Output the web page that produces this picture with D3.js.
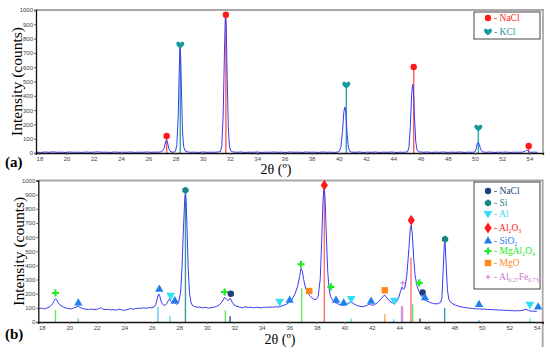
<!DOCTYPE html>
<html>
<head>
<meta charset="utf-8">
<script src="https://cdn.jsdelivr.net/npm/d3@7"></script>
<style>
  body { margin: 0; background: #fff; }
  svg { display: block; }
  .tick text { font-family: "Liberation Sans", Arial, sans-serif; font-size: 6px; fill: #444; }
</style>
</head>
<body>
<div class="chart"></div>
<script>
// XRD patterns (2theta in degrees, intensity in counts)
var topTheta = [17.75,18.1,18.4,18.7,19.0,19.3,19.6,19.9,20.2,20.5,20.8,21.1,21.4,21.7,22.0,22.3,22.6,22.9,23.2,23.5,23.8,24.1,24.4,24.7,25.0,25.3,25.6,25.9,26.2,26.5,26.8,27.0,27.15,27.25,27.33,27.4,27.5,27.6,27.75,27.9,28.0,28.1,28.2,28.28,28.33,28.38,28.45,28.52,28.6,28.7,28.85,29.1,29.4,29.7,30.0,30.3,30.6,30.9,31.1,31.3,31.4,31.5,31.6,31.66,31.72,31.8,31.88,31.96,32.05,32.2,32.5,32.8,33.1,33.4,33.7,34.0,34.3,34.6,34.9,35.2,35.5,35.8,36.1,36.4,36.7,37.0,37.3,37.6,37.9,38.2,38.5,38.8,39.1,39.4,39.7,40.0,40.15,40.27,40.37,40.45,40.52,40.6,40.7,40.8,40.95,41.2,41.5,41.8,42.1,42.4,42.7,43.0,43.3,43.6,43.9,44.2,44.5,44.8,45.05,45.15,45.25,45.35,45.42,45.48,45.56,45.65,45.75,45.9,46.2,46.5,46.8,47.1,47.4,47.7,48.0,48.3,48.6,48.9,49.2,49.5,49.8,50.0,50.1,50.17,50.24,50.32,50.42,50.55,50.8,51.1,51.4,51.7,52.0,52.3,52.6,52.9,53.2,53.5,53.7,53.8,53.9,54.0,54.1,54.3,54.6,55.0];
var topCounts = [6,4,7,5,8,5,6,4,7,5,6,4,7,5,6,8,5,6,4,7,5,6,5,7,4,6,5,7,5,6,6,10,30,70,92,80,35,12,6,7,12,60,260,600,735,680,380,140,45,15,8,5,6,4,7,5,6,5,7,10,50,260,720,958,900,520,180,50,15,8,5,7,4,6,5,7,4,6,5,7,5,6,4,7,5,6,4,7,5,6,4,7,5,6,4,8,40,150,290,322,280,140,40,12,6,5,7,4,6,5,7,4,6,5,7,4,6,5,8,40,180,410,480,440,250,80,20,8,5,7,4,6,5,7,4,6,5,7,4,6,5,8,30,65,75,60,25,8,5,7,4,6,5,7,4,6,5,6,14,21,16,7,5,6,5];

var bottomTheta = [17.75,18.0,18.2,18.4,18.6,18.8,18.9,19.0,19.1,19.2,19.35,19.5,19.7,19.9,20.1,20.3,20.5,20.65,20.8,21.0,21.2,21.4,21.6,21.8,22.0,22.2,22.3,22.4,22.6,22.8,23.0,23.2,23.4,23.6,23.8,24.0,24.2,24.4,24.5,24.6,24.8,25.0,25.2,25.4,25.6,25.8,26.0,26.2,26.3,26.4,26.5,26.58,26.7,26.85,27.0,27.1,27.2,27.3,27.4,27.5,27.6,27.7,27.85,27.95,28.1,28.2,28.3,28.4,28.45,28.5,28.58,28.65,28.75,28.85,28.95,29.1,29.3,29.5,29.7,29.9,30.1,30.3,30.5,30.7,30.9,31.1,31.3,31.45,31.55,31.7,31.85,32.0,32.2,32.4,32.6,32.8,33.0,33.2,33.4,33.6,33.8,34.0,34.2,34.4,34.6,34.8,35.0,35.2,35.4,35.6,35.8,36.0,36.2,36.4,36.6,36.75,36.85,36.95,37.05,37.2,37.4,37.6,37.8,37.95,38.1,38.25,38.35,38.45,38.53,38.6,38.7,38.8,38.9,39.0,39.15,39.3,39.5,39.7,39.9,40.1,40.3,40.5,40.7,40.9,41.1,41.3,41.5,41.7,41.85,42.0,42.2,42.4,42.6,42.8,42.95,43.1,43.3,43.5,43.65,43.8,43.95,44.1,44.2,44.3,44.4,44.55,44.7,44.8,44.87,44.95,45.05,45.15,45.3,45.45,45.6,45.8,46.0,46.2,46.4,46.6,46.8,47.0,47.1,47.2,47.28,47.33,47.4,47.5,47.6,47.75,47.9,48.1,48.3,48.5,48.7,48.9,49.1,49.3,49.5,49.7,49.85,50.0,50.2,50.4,50.6,50.8,51.0,51.2,51.4,51.6,51.8,52.0,52.2,52.4,52.6,52.8,53.0,53.2,53.4,53.5,53.6,53.8,54.0,54.2,54.43];
var bottomCounts = [95,98,92,100,108,130,150,165,155,135,118,110,100,96,92,98,104,112,102,95,90,88,92,87,90,95,104,92,88,90,85,88,84,90,86,82,88,92,97,90,94,98,96,100,97,102,100,108,125,165,198,185,140,118,120,130,150,165,145,128,138,132,125,140,210,380,650,870,910,860,620,380,200,140,118,110,104,106,100,104,98,100,104,110,120,140,175,160,150,168,140,120,110,105,100,108,102,105,100,104,102,100,105,103,106,104,108,106,112,118,125,140,160,195,250,320,378,360,300,235,195,175,160,158,180,300,550,850,955,880,600,350,230,180,155,140,130,122,118,122,132,142,128,118,112,108,112,120,128,118,122,135,155,180,190,170,148,135,130,142,170,220,248,230,240,330,520,660,684,620,450,330,250,215,185,160,148,140,132,128,130,138,170,380,560,566,420,230,160,138,128,118,112,106,104,100,98,96,94,92,93,90,92,88,89,86,87,84,85,82,83,80,81,78,80,79,84,90,82,78,76,77,74];

// phase markers (2theta, marker height) and reference sticks (2theta, stick height)
var topPhases = ["NaCl", "KCl"];
var topMarks = [
  {phase: "NaCl", theta: 27.35, mark: 119},
  {phase: "KCl", theta: 28.35, mark: 755},
  {phase: "NaCl", theta: 31.7, mark: 967},
  {phase: "KCl", theta: 40.55, mark: 475},
  {phase: "NaCl", theta: 45.5, mark: 601},
  {phase: "KCl", theta: 50.25, mark: 175},
  {phase: "NaCl", theta: 53.95, mark: 49}
];

var bottomPhases = ["NaCl", "Si", "Al", "Al_2O_3", "SiO_2", "MgAl_2O_4", "MgO", "Al_{0.27}Fe_{0.73}"];
var bottomMarks = [
  {phase: "MgAl_2O_4", theta: 19.0, mark: 205},
  {phase: "SiO_2", theta: 20.66, mark: 134},
  {phase: "SiO_2", theta: 26.55, mark: 231},
  {phase: "Al", theta: 27.38, mark: 189},
  {phase: "SiO_2", theta: 27.68, mark: 150},
  {phase: "Si", theta: 28.45, mark: 931},
  {phase: "MgAl_2O_4", theta: 31.3, mark: 212},
  {phase: "NaCl", theta: 31.75, mark: 200},
  {phase: "Al", theta: 35.3, mark: 146},
  {phase: "SiO_2", theta: 36.03, mark: 153},
  {phase: "MgAl_2O_4", theta: 36.85, mark: 408},
  {phase: "MgO", theta: 37.45, mark: 219},
  {phase: "Al_2O_3", theta: 38.55, mark: 967},
  {phase: "MgAl_2O_4", theta: 39.03, mark: 248},
  {phase: "SiO_2", theta: 39.4, mark: 153},
  {phase: "SiO_2", theta: 39.96, mark: 134},
  {phase: "Al", theta: 40.5, mark: 165},
  {phase: "SiO_2", theta: 41.95, mark: 146},
  {phase: "MgO", theta: 42.95, mark: 224},
  {phase: "Al", theta: 43.65, mark: 153},
  {phase: "Al_{0.27}Fe_{0.73}", theta: 44.25, mark: 276},
  {phase: "Al_2O_3", theta: 44.87, mark: 719},
  {phase: "MgAl_2O_4", theta: 45.45, mark: 276},
  {phase: "NaCl", theta: 45.7, mark: 208},
  {phase: "SiO_2", theta: 45.87, mark: 170},
  {phase: "Si", theta: 47.33, mark: 585},
  {phase: "SiO_2", theta: 49.8, mark: 123},
  {phase: "Al", theta: 53.5, mark: 125},
  {phase: "SiO_2", theta: 54.1, mark: 106}
];
var bottomSticks = [
  {phase: "MgAl_2O_4", theta: 19.0, h: 85},
  {phase: "SiO_2", theta: 20.66, h: 26},
  {phase: "SiO_2", theta: 26.45, h: 106},
  {phase: "Al", theta: 27.33, h: 42},
  {phase: "Si", theta: 28.45, h: 931},
  {phase: "MgAl_2O_4", theta: 31.35, h: 83},
  {phase: "NaCl", theta: 31.7, h: 40},
  {phase: "MgAl_2O_4", theta: 36.9, h: 240},
  {phase: "Al_2O_3", theta: 38.55, h: 967},
  {phase: "Al", theta: 40.5, h: 24},
  {phase: "MgO", theta: 42.95, h: 59},
  {phase: "Al", theta: 43.6, h: 20},
  {phase: "Al_{0.27}Fe_{0.73}", theta: 44.2, h: 111},
  {phase: "Al_2O_3", theta: 44.85, h: 455},
  {phase: "MgAl_2O_4", theta: 44.97, h: 125},
  {phase: "NaCl", theta: 45.5, h: 25},
  {phase: "Si", theta: 47.3, h: 100},
  {phase: "SiO_2", theta: 49.8, h: 15},
  {phase: "Al", theta: 53.5, h: 25}
];
var yTicks = [0,100,200,300,400,500,600,700,800,900,1000];
var xTicks = [18,20,22,24,26,28,30,32,34,36,38,40,42,44,46,48,50,52,54];

var markColor = {
  "NaCl": "#1d3f7a", "Si": "#1a8585", "Al": "#33dcf2", "Al_2O_3": "#ff1a1a",
  "SiO_2": "#1f80ea", "MgAl_2O_4": "#22ea22", "MgO": "#ff881a", "Al_{0.27}Fe_{0.73}": "#cc77cc"
};
var stickColor = {
  "NaCl": "#2a4a8a", "Si": "#3a9c9c", "Al": "#5fe0f0", "Al_2O_3": "#ff7070",
  "SiO_2": "#66c4ee", "MgAl_2O_4": "#66e866", "MgO": "#ffaa55", "Al_{0.27}Fe_{0.73}": "#d49ad4"
};
var topColor = {"NaCl": "#ff1a1a", "KCl": "#179a9a"};
var topStick = {"NaCl": "#ff5a5a", "KCl": "#2aa8a8"};

var svg = d3.select(".chart").append("svg")
  .attr("width", 550)
  .attr("height", 357);

var heartPath = "M0,3.6 C-1,2.6 -4,0.6 -4,-1.4 C-4,-3.6 -1.4,-4 0,-2 C1.4,-4 4,-3.6 4,-1.4 C4,0.6 1,2.6 0,3.6Z";
var hexPath = d3.range(6).map(function(i) {
  var a = Math.PI / 6 + i * Math.PI / 3;
  return [3.6 * Math.cos(a), 3.6 * Math.sin(a)];
});
hexPath = "M" + hexPath.join("L") + "Z";

// draw one marker shape at (0,0)
function drawMarker(g, phase, top) {
  if (top) {
    if (phase === "NaCl") g.append("circle").attr("r", 3.2).attr("fill", topColor.NaCl);
    else g.append("path").attr("d", heartPath).attr("fill", topColor.KCl);
    return;
  }
  var c = markColor[phase];
  if (phase === "NaCl") g.append("circle").attr("r", 3.2).attr("fill", c);
  else if (phase === "Si") g.append("path").attr("d", hexPath).attr("fill", c);
  else if (phase === "Al") g.append("path").attr("d", d3.symbol(d3.symbolTriangle, 34)()).attr("transform", "rotate(180)").attr("fill", c);
  else if (phase === "Al_2O_3") g.append("path").attr("d", d3.symbol(d3.symbolDiamond, 34)()).attr("transform", "scale(1.15,1)").attr("fill", c);
  else if (phase === "SiO_2") g.append("path").attr("d", d3.symbol(d3.symbolTriangle, 30)()).attr("fill", c);
  else if (phase === "MgAl_2O_4") g.append("path").attr("d", "M-3.6,0H3.6M0,-3.6V3.6").attr("stroke", c).attr("stroke-width", 2.2);
  else if (phase === "MgO") g.append("rect").attr("x", -3.2).attr("y", -3.2).attr("width", 6.4).attr("height", 6.4).attr("fill", c);
  else g.append("path").attr("d", "M-2.4,0H2.4M0,-2.4V2.4").attr("stroke", c).attr("stroke-width", 1);
}

// label with subscripts written as _2 or _{0.27}
function richText(t, label, size) {
  var re = /_\{([^}]*)\}|_(\d)|([^_]+)/g, m, sub = false;
  while ((m = re.exec(label)) !== null) {
    if (m[3]) {
      t.append("tspan").attr("dy", sub ? -2 : 0).text(m[3]);
      sub = false;
    } else {
      t.append("tspan").attr("dy", sub ? 0 : 2).attr("font-size", size * 0.62).text(m[1] || m[2]);
      sub = true;
    }
  }
}

function panel(opt) {
  var x = d3.scaleLinear().domain(opt.xDomain).range(opt.xRange);
  var y = d3.scaleLinear().domain([0, 1000]).range(opt.yRange);
  var g = svg.append("g");

  // frame
  g.append("path")
    .attr("d", "M" + opt.xRange[0] + "," + opt.yRange[1] + "H" + opt.xRange[1] + "V" + opt.frameBottom)
    .attr("fill", "none").attr("stroke", "#a8a8a8").attr("stroke-width", 1.8);

  // reference sticks
  g.selectAll(".stick").data(opt.sticks).enter().append("line")
    .attr("x1", function(d) { return x(d.theta); })
    .attr("x2", function(d) { return x(d.theta); })
    .attr("y1", y(0))
    .attr("y2", function(d) { return y(d.h); })
    .attr("stroke", function(d) { return opt.stickColor[d.phase]; })
    .attr("stroke-width", function(d) { return d.phase === "Al_{0.27}Fe_{0.73}" ? 2.5 : 1.4; });

  // pattern
  var line = d3.line()
    .x(function(d, i) { return x(opt.theta[i]); })
    .y(function(d) { return y(d); });
  g.append("path").datum(opt.counts)
    .attr("d", line)
    .attr("fill", "none")
    .attr("stroke", "#3a3af2")
    .attr("stroke-width", 1);

  // markers
  g.selectAll(".mk").data(opt.marks).enter().append("g")
    .attr("transform", function(d) { return "translate(" + x(d.theta) + "," + y(d.mark) + ")"; })
    .each(function(d) { drawMarker(d3.select(this), d.phase, opt.top); });

  // axes
  var xAxis = d3.axisBottom(x).tickValues(xTicks).tickSize(2).tickPadding(2);
  var yAxis = d3.axisLeft(y).tickValues(yTicks).tickFormat(d3.format("d")).tickSize(2).tickPadding(1);
  var gx = g.append("g").attr("transform", "translate(0," + y(0) + ")").call(xAxis);
  var gy = g.append("g").attr("transform", "translate(" + opt.xRange[0] + ",0)").call(yAxis);
  gx.select(".domain").attr("stroke", "#111").attr("stroke-width", 1.3);
  gy.select(".domain").attr("stroke", "#111").attr("stroke-width", 1.3);
  g.selectAll(".tick line").attr("stroke", "#666");

  // titles
  g.append("text")
    .attr("transform", "translate(" + opt.yLabelX + "," + ((opt.yRange[0] + opt.yRange[1]) / 2) + ") rotate(-90)")
    .attr("text-anchor", "middle")
    .attr("font-family", "Liberation Serif, Times New Roman, serif")
    .attr("font-size", 15.5)
    .text("Intensity (counts)");
  g.append("text")
    .attr("x", opt.xLabelX).attr("y", opt.xLabelY)
    .attr("text-anchor", "middle")
    .attr("font-family", "Liberation Serif, Times New Roman, serif")
    .attr("font-size", 14)
    .text("2θ (º)");
  g.append("text")
    .attr("x", 5).attr("y", opt.tagY)
    .attr("font-family", "Liberation Serif, Times New Roman, serif")
    .attr("font-weight", "bold")
    .attr("font-size", 15)
    .text(opt.tag);

  // legend
  var lg = g.append("g");
  lg.append("rect")
    .attr("x", 474).attr("y", opt.legendTop)
    .attr("width", 66).attr("height", opt.legendHeight)
    .attr("fill", "#fff").attr("stroke", "#444").attr("stroke-width", 1);
  var item = lg.selectAll(".item").data(opt.phases).enter().append("g")
    .attr("transform", function(d, i) { return "translate(488," + opt.legendY[i] + ")"; });
  item.each(function(d) {
    var it = d3.select(this);
    drawMarker(it, d, opt.top);
    var t = it.append("text")
      .attr("x", 6).attr("y", 3)
      .attr("font-family", "Liberation Serif, Times New Roman, serif")
      .attr("font-size", 9.5)
      .attr("fill", opt.top ? topColor[d] : markColor[d]);
    t.append("tspan").text("- ");
    richText(t, d, 9.5);
  });
}

panel({
  top: true,
  xDomain: [17.75, 55.0], xRange: [36, 543], yRange: [153, 10], frameBottom: 153,
  theta: topTheta, counts: topCounts, marks: topMarks,
  sticks: topMarks.map(function(d) { return {phase: d.phase, theta: d.theta, h: d.mark}; }),
  stickColor: topStick, phases: topPhases,
  yLabelX: 22, xLabelX: 276, xLabelY: 174, tag: "(a)", tagY: 167,
  legendTop: 12, legendHeight: 27, legendY: [18, 32]
});

panel({
  top: false,
  xDomain: [17.75, 54.43], xRange: [38.3, 542.7], yRange: [322, 180.5], frameBottom: 347,
  theta: bottomTheta, counts: bottomCounts, marks: bottomMarks,
  sticks: bottomSticks, stickColor: stickColor, phases: bottomPhases,
  yLabelX: 24, xLabelX: 280, xLabelY: 344, tag: "(b)", tagY: 339,
  legendTop: 182, legendHeight: 107, legendY: [191, 203, 213.5, 228, 241, 251, 263, 277]
});
</script>
</body>
</html>
